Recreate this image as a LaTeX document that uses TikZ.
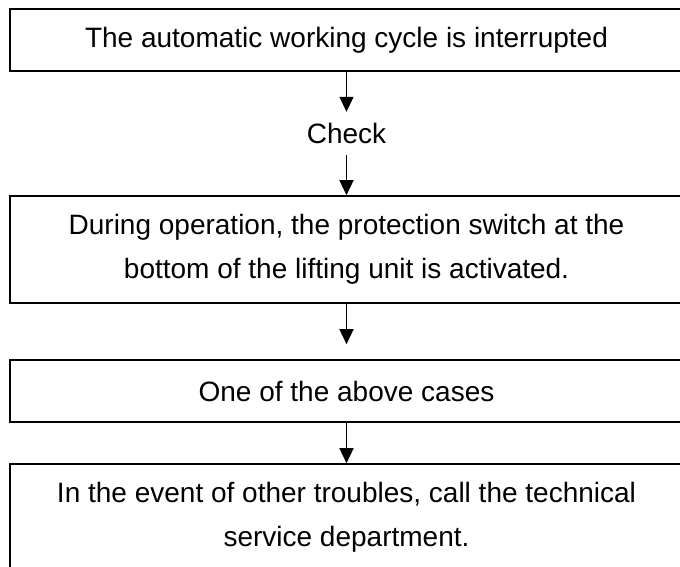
\documentclass[tikz,border=0pt]{standalone}
\usepackage{fontspec}
\setmainfont{Liberation Sans}
\usetikzlibrary{arrows.meta}
\tikzset{
  flowbox/.style={draw, line width=1.6pt, minimum width=673pt, inner sep=0pt, align=center,
    font=\fontsize{28}{44}\selectfont},
  plainlabel/.style={inner sep=0pt, minimum height=43pt, font=\fontsize{28}{44}\selectfont},
  arr/.style={line width=1.4pt, -{Triangle[width=14pt,length=15pt]}}
}
\begin{document}
\begin{tikzpicture}[x=1pt,y=-1pt]
\useasboundingbox (0,0) rectangle (680,567);
\node[flowbox, minimum height=62pt] (b1) at (346.5,40) {The automatic working cycle is interrupted};
\node[plainlabel] (chk) at (346.5,133.5) {Check};
\node[flowbox, minimum height=107pt] (b2) at (346.5,249.5) {During operation, the protection switch at the\\bottom of the lifting unit is activated.};
\node[flowbox, minimum height=62pt] (b3) at (346.5,391) {One of the above cases};
\node[flowbox, minimum height=107pt] (b4) at (346.5,517.5) {In the event of other troubles, call the technical\\service department.};
\draw[arr] (b1.south) -- (chk.north);
\draw[arr] (chk.south) -- (b2.north);
\draw[arr, shorten >=15pt] (b2.south) -- (b3.north);
\draw[arr] (b3.south) -- (b4.north);
\end{tikzpicture}
\end{document}
